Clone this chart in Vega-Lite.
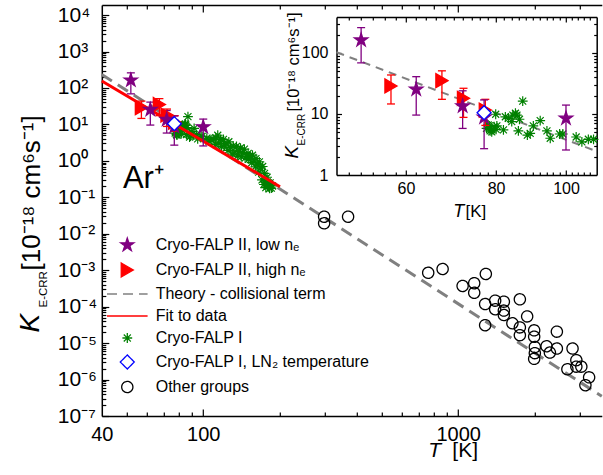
{
  "$schema": "https://vega.github.io/schema/vega-lite/v6.json",
  "width": 500,
  "height": 411,
  "autosize": "none",
  "padding": {"left": 101.8, "top": 5, "right": 1.2, "bottom": 59},
  "background": "white",
  "config": {
    "view": {"stroke": null},
    "font": "Liberation Sans",
    "axis": {
      "grid": false, "domainColor": "#000000", "domainWidth": 1.5,
      "tickColor": "#000000", "tickWidth": 1.2, "labelColor": "#000000",
      "titleColor": "#000000", "labelFont": "Liberation Sans", "titleFont": "Liberation Sans",
      "titleFontWeight": "normal", "labelOverlap": false, "labelFlush": false, "labelBound": false
    },
    "legend": {
      "labelFont": "Liberation Sans", "labelFontSize": 16, "labelColor": "#000000", "labelLimit": 0,
      "symbolSize": 196, "rowPadding": 6, "labelOffset": 20.4, "padding": 0,
      "symbolOffset": 0, "symbolStrokeWidth": 1.3
    }
  },
  "datasets": {
    "points": [
      {"series": "Other groups", "T": 298, "K": 0.0294},
      {"series": "Other groups", "T": 298, "K": 0.0194},
      {"series": "Other groups", "T": 370, "K": 0.0294},
      {"series": "Other groups", "T": 763, "K": 0.00085},
      {"series": "Other groups", "T": 869, "K": 0.00108},
      {"series": "Other groups", "T": 1041, "K": 0.00037},
      {"series": "Other groups", "T": 1156, "K": 0.00044},
      {"series": "Other groups", "T": 1156, "K": 0.00024},
      {"series": "Other groups", "T": 1284, "K": 0.00079},
      {"series": "Other groups", "T": 1276, "K": 0.000118},
      {"series": "Other groups", "T": 1276, "K": 0.000031},
      {"series": "Other groups", "T": 1397, "K": 0.000146},
      {"series": "Other groups", "T": 1397, "K": 0.000085},
      {"series": "Other groups", "T": 1511, "K": 0.000137},
      {"series": "Other groups", "T": 1511, "K": 0.000078},
      {"series": "Other groups", "T": 1511, "K": 0.000059},
      {"series": "Other groups", "T": 1632, "K": 0.000035},
      {"series": "Other groups", "T": 1746, "K": 0.000159},
      {"series": "Other groups", "T": 1746, "K": 0.000027},
      {"series": "Other groups", "T": 1746, "K": 0.0000165},
      {"series": "Other groups", "T": 1865, "K": 0.000054},
      {"series": "Other groups", "T": 1987, "K": 0.0000224},
      {"series": "Other groups", "T": 1987, "K": 0.000015},
      {"series": "Other groups", "T": 1999, "K": 0.0000078},
      {"series": "Other groups", "T": 1999, "K": 0.0000053},
      {"series": "Other groups", "T": 1987, "K": 0.0000037},
      {"series": "Other groups", "T": 2222, "K": 0.0000082},
      {"series": "Other groups", "T": 2290, "K": 0.0000055},
      {"series": "Other groups", "T": 2439, "K": 0.0000206},
      {"series": "Other groups", "T": 2439, "K": 0.0000071},
      {"series": "Other groups", "T": 2810, "K": 0.0000071},
      {"series": "Other groups", "T": 2908, "K": 0.0000034},
      {"series": "Other groups", "T": 2908, "K": 0.00000226},
      {"series": "Other groups", "T": 3042, "K": 0.00000226},
      {"series": "Other groups", "T": 2682, "K": 0.00000192},
      {"series": "Other groups", "T": 3264, "K": 0.00000115},
      {"series": "Other groups", "T": 3156, "K": 0.0000007},
      {"series": "Cryo-FALP II, high nₑ", "T": 57.2, "K": 28.8, "lo": 14.6, "hi": 43.6},
      {"series": "Cryo-FALP II, high nₑ", "T": 67.3, "K": 35.2, "lo": 17.4, "hi": 51},
      {"series": "Cryo-FALP II, high nₑ", "T": 72.1, "K": 18.1, "lo": 8.8, "hi": 26.4},
      {"series": "Cryo-FALP II, high nₑ", "T": 77.3, "K": 11.6, "lo": 6.5, "hi": 17.4},
      {"series": "Cryo-FALP II, low nₑ", "T": 52.0, "K": 163, "lo": 69, "hi": 260},
      {"series": "Cryo-FALP II, low nₑ", "T": 62.0, "K": 25.4, "lo": 9.6, "hi": 40.9},
      {"series": "Cryo-FALP II, low nₑ", "T": 71.9, "K": 13.5, "lo": 5.8, "hi": 24},
      {"series": "Cryo-FALP II, low nₑ", "T": 77.0, "K": 8.8, "lo": 2.7, "hi": 17},
      {"series": "Cryo-FALP II, low nₑ", "T": 100.0, "K": 8.5, "lo": 2.57, "hi": 14},
      {"series": "Cryo-FALP I, LN₂ temperature", "T": 77.0, "K": 10.5}
    ],
    "green": [
      {"T": 77.6, "K": 5.8}, {"T": 78.0, "K": 6.6}, {"T": 78.3, "K": 6.4}, {"T": 78.5, "K": 5.3},
      {"T": 78.9, "K": 5.5}, {"T": 78.9, "K": 5.1}, {"T": 79.5, "K": 6.2}, {"T": 79.9, "K": 9.9},
      {"T": 80.0, "K": 5.6}, {"T": 80.2, "K": 6.4}, {"T": 81.9, "K": 5.5}, {"T": 82.4, "K": 9.0},
      {"T": 83.2, "K": 8.5}, {"T": 84.1, "K": 7.5}, {"T": 84.4, "K": 9.6}, {"T": 85.1, "K": 10.3},
      {"T": 85.5, "K": 9.6}, {"T": 85.9, "K": 5.3}, {"T": 86.2, "K": 8.2}, {"T": 87.1, "K": 16.3},
      {"T": 88.4, "K": 4.5}, {"T": 89.2, "K": 4.8}, {"T": 90.1, "K": 6.4}, {"T": 92.1, "K": 7.8},
      {"T": 94.1, "K": 5.3}, {"T": 95.1, "K": 4.0}, {"T": 98.0, "K": 4.7}, {"T": 99.0, "K": 4.7},
      {"T": 103.3, "K": 4.2}, {"T": 105.2, "K": 3.5}, {"T": 107.4, "K": 3.85}, {"T": 109.2, "K": 3.85},
      {"T": 112, "K": 4.3}, {"T": 112, "K": 2.85}, {"T": 114, "K": 5.05}, {"T": 115, "K": 3.07},
      {"T": 117, "K": 3.86}, {"T": 118, "K": 2.46}, {"T": 120, "K": 3.89}, {"T": 121, "K": 2.6},
      {"T": 123, "K": 2.94}, {"T": 125, "K": 1.93}, {"T": 126, "K": 3.34}, {"T": 128, "K": 2.36},
      {"T": 130, "K": 1.54}, {"T": 131, "K": 2.53}, {"T": 133, "K": 1.76}, {"T": 135, "K": 2.51},
      {"T": 136, "K": 1.35}, {"T": 138, "K": 1.82}, {"T": 140, "K": 2.25}, {"T": 141, "K": 1.32},
      {"T": 143, "K": 1.68}, {"T": 145, "K": 2.09}, {"T": 146, "K": 1.19}, {"T": 148, "K": 1.36},
      {"T": 150, "K": 1.61}, {"T": 151, "K": 1.12}, {"T": 153, "K": 1.33}, {"T": 155, "K": 0.89},
      {"T": 156, "K": 1.43}, {"T": 158, "K": 1.04}, {"T": 160, "K": 0.69}, {"T": 161, "K": 1.15},
      {"T": 163, "K": 0.81}, {"T": 165, "K": 0.49}, {"T": 166, "K": 0.94}, {"T": 168, "K": 0.64},
      {"T": 170, "K": 0.30}, {"T": 171, "K": 0.70}, {"T": 173, "K": 0.225}, {"T": 174, "K": 0.455},
      {"T": 175, "K": 0.26}, {"T": 176, "K": 0.185}, {"T": 178, "K": 0.355}, {"T": 179, "K": 0.205},
      {"T": 180, "K": 0.25}, {"T": 182, "K": 0.175}, {"T": 183, "K": 0.25}, {"T": 185, "K": 0.178},
      {"T": 187, "K": 0.205}
    ],
    "theory": [{"T": 40, "K": 235}, {"T": 3660, "K": 3.5e-7}],
    "theoryInset": [{"T": 48.07, "K": 103}, {"T": 110.3, "K": 2.44}],
    "fit": [{"T": 40, "K": 155}, {"T": 200, "K": 0.195}]
  },
  "layer": [
    {
      "layer": [
        {
          "data": {"name": "theory"},
          "mark": {"type": "line", "stroke": "#808080", "strokeWidth": 3, "strokeDash": [12, 7]},
          "encoding": {
            "x": {"field": "T", "type": "quantitative", "scale": {"type": "log", "domain": [40, 3660], "nice": false},
              "axis": {"orient": "bottom", "values": [40, 100, 1000], "format": "d", "ticks": false, "domain": true,
                "labelFontSize": 20, "labelPadding": 8, "title": "T", "titleFontStyle": "italic", "titleFontSize": 21,
                "titleX": 326, "titleY": 40, "titleAlign": "left", "titleBaseline": "alphabetic"}},
            "y": {"field": "K", "type": "quantitative", "scale": {"type": "log", "domain": [1e-7, 18900], "nice": false},
              "axis": {"orient": "left", "values": [1e-7, 1e-6, 1e-5, 0.0001, 0.001, 0.01, 0.1, 1, 10, 100, 1000, 10000],
                "labelExpr": "'10' + ['⁻⁷','⁻⁶','⁻⁵','⁻⁴','⁻³','⁻²','⁻¹','⁰','¹','²','³','⁴'][round(log(datum.value)/LN10)+7]",
                "ticks": false, "domain": true, "labelAlign": "left", "labelBaseline": "middle", "labelPadding": 44.5,
                "labelFontSize": 21, "title": "[10⁻¹⁸ cm⁶s⁻¹]", "titleFontSize": 26, "titleAngle": 270,
                "titleX": -62, "titleY": 265, "titleAlign": "left", "titleBaseline": "alphabetic"}}
          }
        },
        {
          "data": {"name": "green"},
          "mark": {"type": "point", "shape": "M-0.7,0H0.7M0,-0.7V0.7M-0.5,-0.5L0.5,0.5M-0.5,0.5L0.5,-0.5", "size": 196,
            "stroke": "#008000", "fill": "transparent", "strokeWidth": 1.2, "opacity": 1},
          "encoding": {
            "x": {"field": "T", "type": "quantitative", "scale": {"type": "log", "domain": [40, 3660], "nice": false},
              "axis": {"orient": "bottom", "values": [100, 1000], "labels": false, "domain": false, "tickSize": -7,
                "title": "[K]", "titleFontSize": 21, "titleX": 350, "titleY": 40, "titleAlign": "left", "titleBaseline": "alphabetic"}},
            "y": {"field": "K", "type": "quantitative", "scale": {"type": "log", "domain": [1e-7, 18900], "nice": false},
              "axis": {"orient": "left", "values": [1e-7, 1e-6, 1e-5, 0.0001, 0.001, 0.01, 0.1, 1, 10, 100, 1000, 10000],
                "labels": false, "domain": false, "tickSize": -7, "title": "K", "titleFontStyle": "italic", "titleFontSize": 28,
                "titleAngle": 270, "titleX": -63.5, "titleY": 327, "titleAlign": "left", "titleBaseline": "alphabetic"}}
          }
        },
        {
          "data": {"name": "fit"},
          "mark": {"type": "line", "stroke": "#ff0000", "strokeWidth": 3},
          "encoding": {
            "x": {"field": "T", "type": "quantitative", "scale": {"type": "log", "domain": [40, 3660], "nice": false},
              "axis": {"orient": "bottom", "values": [50, 60, 70, 80, 90, 200, 300, 400, 500, 600, 700, 800, 900, 2000, 3000],
                "labels": false, "domain": false, "tickSize": -4, "title": null}},
            "y": {"field": "K", "type": "quantitative", "scale": {"type": "log", "domain": [1e-7, 18900], "nice": false},
              "axis": {"orient": "left",
                "values": [2e-7, 3e-7, 4e-7, 5e-7, 6e-7, 7e-7, 8e-7, 9e-7, 2e-6, 3e-6, 4e-6, 5e-6, 6e-6, 7e-6, 8e-6, 9e-6,
                  2e-5, 3e-5, 4e-5, 5e-5, 6e-5, 7e-5, 8e-5, 9e-5, 0.0002, 0.0003, 0.0004, 0.0005, 0.0006, 0.0007, 0.0008, 0.0009,
                  0.002, 0.003, 0.004, 0.005, 0.006, 0.007, 0.008, 0.009, 0.02, 0.03, 0.04, 0.05, 0.06, 0.07, 0.08, 0.09,
                  0.2, 0.3, 0.4, 0.5, 0.6, 0.7, 0.8, 0.9, 2, 3, 4, 5, 6, 7, 8, 9, 20, 30, 40, 50, 60, 70, 80, 90,
                  200, 300, 400, 500, 600, 700, 800, 900, 2000, 3000, 4000, 5000, 6000, 7000, 8000, 9000],
                "labels": false, "domain": false, "tickSize": -4, "title": "E-CRR", "titleFontSize": 11.5,
                "titleAngle": 270, "titleX": -55.5, "titleY": 302, "titleAlign": "left", "titleBaseline": "alphabetic"}}
          }
        },
        {
          "data": {"name": "points"},
          "transform": [{"filter": "isValid(datum.lo)"}],
          "mark": {"type": "rule", "strokeWidth": 1.3},
          "encoding": {
            "x": {"field": "T", "type": "quantitative", "scale": {"type": "log", "domain": [40, 3660], "nice": false},
              "axis": {"orient": "top", "values": [100, 1000], "labels": false, "domain": true, "tickSize": -7, "title": null}},
            "y": {"field": "lo", "type": "quantitative", "scale": {"type": "log", "domain": [1e-7, 18900], "nice": false}, "axis": null},
            "y2": {"field": "hi"},
            "stroke": {"field": "series", "type": "nominal",
              "legend": {"orient": "none", "legendX": 17.5, "legendY": 232, "title": null},
              "scale": {"domain": ["Cryo-FALP II, low nₑ", "Cryo-FALP II, high nₑ", "Theory - collisional term", "Fit to data", "Cryo-FALP I", "Cryo-FALP I, LN₂ temperature", "Other groups"],
                "range": ["#800080", "#ff0000", "#808080", "#ff0000", "#008000", "#0000ff", "#000000"]}}
          }
        },
        {
          "data": {"name": "points"},
          "transform": [{"filter": "isValid(datum.lo)"}],
          "mark": {"type": "tick", "orient": "horizontal", "size": 8, "thickness": 1.3, "opacity": 1},
          "encoding": {
            "x": {"field": "T", "type": "quantitative", "scale": {"type": "log", "domain": [40, 3660], "nice": false},
              "axis": {"orient": "top", "values": [50, 60, 70, 80, 90, 200, 300, 400, 500, 600, 700, 800, 900, 2000, 3000],
                "labels": false, "domain": false, "tickSize": -4, "title": null}},
            "y": {"field": "lo", "type": "quantitative", "scale": {"type": "log", "domain": [1e-7, 18900], "nice": false}, "axis": null},
            "fill": {"field": "series", "type": "nominal",
              "legend": {"orient": "none", "legendX": 17.5, "legendY": 232, "title": null},
              "scale": {"domain": ["Cryo-FALP II, low nₑ", "Cryo-FALP II, high nₑ", "Theory - collisional term", "Fit to data", "Cryo-FALP I", "Cryo-FALP I, LN₂ temperature", "Other groups"],
                "range": ["#800080", "#ff0000", "transparent", "transparent", "transparent", "#ffffff", "transparent"]}}
          }
        },
        {
          "data": {"name": "points"},
          "transform": [{"filter": "isValid(datum.hi)"}],
          "mark": {"type": "tick", "orient": "horizontal", "size": 8, "thickness": 1.3, "opacity": 1},
          "encoding": {
            "x": {"field": "T", "type": "quantitative", "scale": {"type": "log", "domain": [40, 3660], "nice": false}, "axis": null},
            "y": {"field": "hi", "type": "quantitative", "scale": {"type": "log", "domain": [1e-7, 18900], "nice": false}, "axis": null},
            "fill": {"field": "series", "type": "nominal",
              "legend": {"orient": "none", "legendX": 17.5, "legendY": 232, "title": null},
              "scale": {"domain": ["Cryo-FALP II, low nₑ", "Cryo-FALP II, high nₑ", "Theory - collisional term", "Fit to data", "Cryo-FALP I", "Cryo-FALP I, LN₂ temperature", "Other groups"],
                "range": ["#800080", "#ff0000", "transparent", "transparent", "transparent", "#ffffff", "transparent"]}}
          }
        },
        {
          "data": {"name": "points"},
          "mark": {"type": "point", "size": 196, "strokeWidth": 1.3, "opacity": 1},
          "encoding": {
            "x": {"field": "T", "type": "quantitative", "scale": {"type": "log", "domain": [40, 3660], "nice": false}, "axis": null},
            "y": {"field": "K", "type": "quantitative", "scale": {"type": "log", "domain": [1e-7, 18900], "nice": false}, "axis": null},
            "fill": {"field": "series", "type": "nominal",
              "scale": {"domain": ["Cryo-FALP II, low nₑ", "Cryo-FALP II, high nₑ", "Theory - collisional term", "Fit to data", "Cryo-FALP I", "Cryo-FALP I, LN₂ temperature", "Other groups"],
                "range": ["#800080", "#ff0000", "transparent", "transparent", "transparent", "#ffffff", "transparent"]},
              "legend": {"orient": "none", "legendX": 17.5, "legendY": 232, "title": null}},
            "stroke": {"field": "series", "type": "nominal",
              "scale": {"domain": ["Cryo-FALP II, low nₑ", "Cryo-FALP II, high nₑ", "Theory - collisional term", "Fit to data", "Cryo-FALP I", "Cryo-FALP I, LN₂ temperature", "Other groups"],
                "range": ["#800080", "#ff0000", "#808080", "#ff0000", "#008000", "#0000ff", "#000000"]},
              "legend": {"orient": "none", "legendX": 17.5, "legendY": 232, "title": null}},
            "shape": {"field": "series", "type": "nominal",
              "scale": {"domain": ["Cryo-FALP II, low nₑ", "Cryo-FALP II, high nₑ", "Theory - collisional term", "Fit to data", "Cryo-FALP I", "Cryo-FALP I, LN₂ temperature", "Other groups"],
                "range": ["M0,-1L0.2245,-0.309L0.951,-0.309L0.363,0.118L0.588,0.809L0,0.382L-0.588,0.809L-0.363,0.118L-0.951,-0.309L-0.2245,-0.309Z",
                  "triangle-right", "M-2.9,0H2.9", "M-2.9,0H2.9",
                  "M-0.7,0H0.7M0,-0.7V0.7M-0.5,-0.5L0.5,0.5M-0.5,0.5L0.5,-0.5", "diamond",
                  "M0.8,0A0.8,0.8,0,1,1,-0.8,0A0.8,0.8,0,1,1,0.8,0Z"]},
              "legend": {"orient": "none", "legendX": 17.5, "legendY": 232, "title": null}},
            "strokeDash": {"field": "series", "type": "nominal",
              "scale": {"domain": ["Cryo-FALP II, low nₑ", "Cryo-FALP II, high nₑ", "Theory - collisional term", "Fit to data", "Cryo-FALP I", "Cryo-FALP I, LN₂ temperature", "Other groups"],
                "range": [[1, 0], [1, 0], [10, 6], [1, 0], [1, 0], [1, 0], [1, 0]]},
              "legend": {"orient": "none", "legendX": 17.5, "legendY": 232, "title": null}}
          }
        },
        {
          "data": {"values": [{}]},
          "mark": {"type": "text", "text": "Ar⁺", "fontSize": 31, "align": "left", "baseline": "alphabetic", "font": "Liberation Sans", "color": "#000000"},
          "encoding": {
            "x": {"datum": 48.4, "type": "quantitative", "scale": {"type": "log", "domain": [40, 3660], "nice": false}, "axis": null},
            "y": {"datum": 0.177, "type": "quantitative", "scale": {"type": "log", "domain": [1e-7, 18900], "nice": false}, "axis": null}
          }
        }
      ],
      "resolve": {"axis": {"x": "independent", "y": "independent"}}
    },
    {
      "layer": [
        {
          "data": {"name": "theoryInset"},
          "mark": {"type": "line", "stroke": "#808080", "strokeWidth": 2, "strokeDash": [8, 6]},
          "encoding": {
            "x": {"field": "T", "type": "quantitative", "scale": {"type": "log", "domain": [48.07, 110.3], "nice": false, "range": [234.7, 494.9]},
              "axis": {"orient": "bottom", "offset": -241, "values": [60, 80, 100], "format": "d", "ticks": false, "domain": true,
                "labelFontSize": 16, "labelPadding": 5, "title": "T", "titleFontStyle": "italic", "titleFontSize": 18,
                "titleX": 350.9, "titleY": 41.7, "titleAlign": "left", "titleBaseline": "alphabetic"}},
            "y": {"field": "K", "type": "quantitative", "scale": {"type": "log", "domain": [1, 389], "nice": false, "range": [170, 12]},
              "axis": {"orient": "left", "offset": -234.7, "values": [1, 10, 100], "format": "d", "ticks": false, "domain": true,
                "labelFontSize": 16, "labelPadding": 8.5, "labelBaseline": "middle", "title": "[10⁻¹⁸ cm⁶s⁻¹]", "titleFontSize": 16.5,
                "titleAngle": 270, "titleX": -38, "titleY": 106, "titleAlign": "left", "titleBaseline": "alphabetic"}}
          }
        },
        {
          "data": {"name": "green"},
          "transform": [{"filter": "datum.T <= 110.3"}],
          "mark": {"type": "point", "shape": "M-0.7,0H0.7M0,-0.7V0.7M-0.5,-0.5L0.5,0.5M-0.5,0.5L0.5,-0.5", "size": 196,
            "stroke": "#008000", "fill": "transparent", "strokeWidth": 1.2, "opacity": 1},
          "encoding": {
            "x": {"field": "T", "type": "quantitative", "scale": {"type": "log", "domain": [48.07, 110.3], "nice": false, "range": [234.7, 494.9]},
              "axis": {"orient": "bottom", "offset": -241, "values": [60, 80, 100], "labels": false, "domain": false, "tickSize": -5,
                "title": "[K]", "titleFontSize": 17, "titleX": 363.2, "titleY": 41.7, "titleAlign": "left", "titleBaseline": "alphabetic"}},
            "y": {"field": "K", "type": "quantitative", "scale": {"type": "log", "domain": [1, 389], "nice": false, "range": [170, 12]},
              "axis": {"orient": "left", "offset": -234.7, "values": [10, 100], "labels": false, "domain": false, "tickSize": -5,
                "title": "K", "titleFontStyle": "italic", "titleFontSize": 19, "titleAngle": 270,
                "titleX": -39.5, "titleY": 153, "titleAlign": "left", "titleBaseline": "alphabetic"}}
          }
        },
        {
          "data": {"name": "points"},
          "transform": [{"filter": "isValid(datum.lo) && datum.T <= 110.3"}],
          "mark": {"type": "rule", "strokeWidth": 1.3},
          "encoding": {
            "x": {"field": "T", "type": "quantitative", "scale": {"type": "log", "domain": [48.07, 110.3], "nice": false, "range": [234.7, 494.9]},
              "axis": {"orient": "bottom", "offset": -241,
                "values": [50, 52, 54, 56, 58, 62, 64, 66, 68, 70, 72, 74, 76, 78, 82, 84, 86, 88, 90, 92, 94, 96, 98, 102, 104, 106, 108],
                "labels": false, "domain": false, "tickSize": -3, "title": null}},
            "y": {"field": "lo", "type": "quantitative", "scale": {"type": "log", "domain": [1, 389], "nice": false, "range": [170, 12]},
              "axis": {"orient": "left", "offset": -234.7, "values": [2, 3, 4, 5, 6, 7, 8, 9, 20, 30, 40, 50, 60, 70, 80, 90, 200, 300],
                "labels": false, "domain": false, "tickSize": -3, "title": "E-CRR", "titleFontSize": 10, "titleAngle": 270,
                "titleX": -32, "titleY": 140, "titleAlign": "left", "titleBaseline": "alphabetic"}},
            "y2": {"field": "hi"},
            "stroke": {"field": "series", "type": "nominal",
              "legend": {"orient": "none", "legendX": 17.5, "legendY": 232, "title": null},
              "scale": {"domain": ["Cryo-FALP II, low nₑ", "Cryo-FALP II, high nₑ", "Theory - collisional term", "Fit to data", "Cryo-FALP I", "Cryo-FALP I, LN₂ temperature", "Other groups"],
                "range": ["#800080", "#ff0000", "#808080", "#ff0000", "#008000", "#0000ff", "#000000"]}}
          }
        },
        {
          "data": {"name": "points"},
          "transform": [{"filter": "isValid(datum.lo) && datum.T <= 110.3"}],
          "mark": {"type": "tick", "orient": "horizontal", "size": 8, "thickness": 1.3, "opacity": 1},
          "encoding": {
            "x": {"field": "T", "type": "quantitative", "scale": {"type": "log", "domain": [48.07, 110.3], "nice": false, "range": [234.7, 494.9]},
              "axis": {"orient": "top", "offset": -12, "values": [60, 80, 100], "labels": false, "domain": true, "tickSize": -5, "title": null}},
            "y": {"field": "lo", "type": "quantitative", "scale": {"type": "log", "domain": [1, 389], "nice": false, "range": [170, 12]},
              "axis": {"orient": "right", "offset": -5.1, "values": [10, 100], "labels": false, "domain": true, "tickSize": -5, "title": null}},
            "fill": {"field": "series", "type": "nominal",
              "legend": {"orient": "none", "legendX": 17.5, "legendY": 232, "title": null},
              "scale": {"domain": ["Cryo-FALP II, low nₑ", "Cryo-FALP II, high nₑ", "Theory - collisional term", "Fit to data", "Cryo-FALP I", "Cryo-FALP I, LN₂ temperature", "Other groups"],
                "range": ["#800080", "#ff0000", "transparent", "transparent", "transparent", "#ffffff", "transparent"]}}
          }
        },
        {
          "data": {"name": "points"},
          "transform": [{"filter": "isValid(datum.hi) && datum.T <= 110.3"}],
          "mark": {"type": "tick", "orient": "horizontal", "size": 8, "thickness": 1.3, "opacity": 1},
          "encoding": {
            "x": {"field": "T", "type": "quantitative", "scale": {"type": "log", "domain": [48.07, 110.3], "nice": false, "range": [234.7, 494.9]},
              "axis": {"orient": "top", "offset": -12,
                "values": [50, 52, 54, 56, 58, 62, 64, 66, 68, 70, 72, 74, 76, 78, 82, 84, 86, 88, 90, 92, 94, 96, 98, 102, 104, 106, 108],
                "labels": false, "domain": false, "tickSize": -3, "title": null}},
            "y": {"field": "hi", "type": "quantitative", "scale": {"type": "log", "domain": [1, 389], "nice": false, "range": [170, 12]},
              "axis": {"orient": "right", "offset": -5.1, "values": [2, 3, 4, 5, 6, 7, 8, 9, 20, 30, 40, 50, 60, 70, 80, 90, 200, 300],
                "labels": false, "domain": false, "tickSize": -3, "title": null}},
            "fill": {"field": "series", "type": "nominal",
              "legend": {"orient": "none", "legendX": 17.5, "legendY": 232, "title": null},
              "scale": {"domain": ["Cryo-FALP II, low nₑ", "Cryo-FALP II, high nₑ", "Theory - collisional term", "Fit to data", "Cryo-FALP I", "Cryo-FALP I, LN₂ temperature", "Other groups"],
                "range": ["#800080", "#ff0000", "transparent", "transparent", "transparent", "#ffffff", "transparent"]}}
          }
        },
        {
          "data": {"name": "points"},
          "transform": [{"filter": "datum.T <= 110.3"}],
          "mark": {"type": "point", "size": 196, "strokeWidth": 1.3, "opacity": 1},
          "encoding": {
            "x": {"field": "T", "type": "quantitative", "scale": {"type": "log", "domain": [48.07, 110.3], "nice": false, "range": [234.7, 494.9]}, "axis": null},
            "y": {"field": "K", "type": "quantitative", "scale": {"type": "log", "domain": [1, 389], "nice": false, "range": [170, 12]}, "axis": null},
            "fill": {"field": "series", "type": "nominal",
              "legend": {"orient": "none", "legendX": 17.5, "legendY": 232, "title": null},
              "scale": {"domain": ["Cryo-FALP II, low nₑ", "Cryo-FALP II, high nₑ", "Theory - collisional term", "Fit to data", "Cryo-FALP I", "Cryo-FALP I, LN₂ temperature", "Other groups"],
                "range": ["#800080", "#ff0000", "transparent", "transparent", "transparent", "#ffffff", "transparent"]}},
            "stroke": {"field": "series", "type": "nominal",
              "legend": {"orient": "none", "legendX": 17.5, "legendY": 232, "title": null},
              "scale": {"domain": ["Cryo-FALP II, low nₑ", "Cryo-FALP II, high nₑ", "Theory - collisional term", "Fit to data", "Cryo-FALP I", "Cryo-FALP I, LN₂ temperature", "Other groups"],
                "range": ["#800080", "#ff0000", "#808080", "#ff0000", "#008000", "#0000ff", "#000000"]}},
            "shape": {"field": "series", "type": "nominal",
              "legend": {"orient": "none", "legendX": 17.5, "legendY": 232, "title": null},
              "scale": {"domain": ["Cryo-FALP II, low nₑ", "Cryo-FALP II, high nₑ", "Theory - collisional term", "Fit to data", "Cryo-FALP I", "Cryo-FALP I, LN₂ temperature", "Other groups"],
                "range": ["M0,-1L0.2245,-0.309L0.951,-0.309L0.363,0.118L0.588,0.809L0,0.382L-0.588,0.809L-0.363,0.118L-0.951,-0.309L-0.2245,-0.309Z",
                  "triangle-right", "M-2.9,0H2.9", "M-2.9,0H2.9",
                  "M-0.7,0H0.7M0,-0.7V0.7M-0.5,-0.5L0.5,0.5M-0.5,0.5L0.5,-0.5", "diamond",
                  "M0.8,0A0.8,0.8,0,1,1,-0.8,0A0.8,0.8,0,1,1,0.8,0Z"]}}
          }
        }
      ],
      "resolve": {"axis": {"x": "independent", "y": "independent"}}
    }
  ],
  "resolve": {"scale": {"x": "independent", "y": "independent"}, "axis": {"x": "independent", "y": "independent"}}
}
